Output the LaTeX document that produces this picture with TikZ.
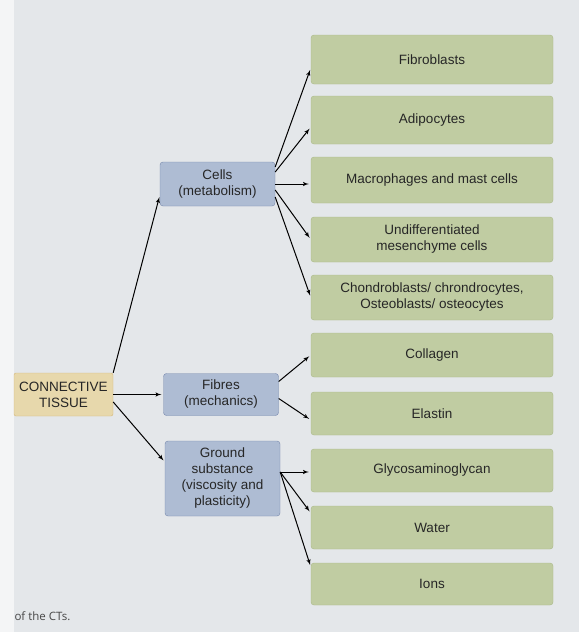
\documentclass[tikz,border=0pt]{standalone}
\usepackage{fontspec}
\setmainfont{Liberation Sans}
\newfontfamily\capfont{Open Sans}
\usetikzlibrary{arrows,shapes,calc}

\definecolor{paper}{RGB}{228,231,234}
\definecolor{pageedge}{RGB}{244,245,246}
\definecolor{tissuefill}{RGB}{231,216,172}
\definecolor{tissueline}{RGB}{214,184,122}
\definecolor{partfill}{RGB}{174,188,211}
\definecolor{partline}{RGB}{118,136,172}
\definecolor{kindfill}{RGB}{192,204,162}
\definecolor{kindline}{RGB}{170,184,136}
\definecolor{ink}{RGB}{38,38,38}

\begin{document}
\begin{tikzpicture}
[x=1pt,y=-1pt,
every node/.style={draw=none,text=ink,align=center,font=\fontsize{13.5}{16}\selectfont},
tissue/.style={draw=tissueline,fill=tissuefill,rounded corners=2pt,minimum width=99pt,minimum height=43pt,inner sep=0pt},
part/.style={draw=partline,fill=partfill,rounded corners=3pt,minimum width=115pt,inner sep=0pt},
kind/.style={draw=kindline,fill=kindfill,rounded corners=3pt,minimum width=242pt,minimum height=45pt,inner sep=0pt},
edge/.style={->,>=latex', shorten >=2pt, shorten <=.0pt, line width=1pt}]
%%
\fill[paper] (0,0) rectangle (579,632);
\fill[pageedge] (0,0) rectangle (14,632);
\useasboundingbox (0,0) rectangle (579,632);
%%
\node[tissue] (ct) at (63.5,394.5) {CONNECTIVE\\TISSUE};
%%
\node[part,minimum height=44pt] (cells) at (217.5,184) {Cells\\(metabolism)};
\node[part,minimum height=42pt] (fibres) at (221,394.5) {Fibres\\(mechanics)};
\node[part,minimum height=75pt] (ground) at (222.5,478.5) {Ground\\substance\\(viscosity and\\plasticity)};
%%
\node[kind,minimum height=49pt] (fibroblast) at (432,59.5) {Fibroblasts};
\node[kind,minimum height=48pt] (adipocyte) at (432,120) {Adipocytes};
\node[kind,minimum height=46pt] (macrophage) at (432,180) {Macrophages and mast cells};
\node[kind] (mesenchyme) at (432,239.5) {Undifferentiated\\mesenchyme cells};
\node[kind] (chondro) at (432,297.5) {Chondroblasts/ chrondrocytes,\\Osteoblasts/ osteocytes};
%%
\node[kind,minimum height=44pt] (collagen) at (432,355) {Collagen};
\node[kind,minimum height=43pt] (elastin) at (432,413.5) {Elastin};
%%
\node[kind,minimum height=43pt] (gag) at (432,470.5) {Glycosaminoglycan};
\node[kind,minimum height=43pt] (water) at (432,527.5) {Water};
\node[kind,minimum height=42pt] (ions) at (432,584) {Ions};
%%
\node[anchor=west,font=\capfont\fontsize{11.5}{13}\selectfont,text=ink!85] (caption) at (11,616) {of the CTs.};
%%
\draw[edge] (ct.north east) -- ([yshift=11pt]cells.south west);
\draw[edge] (ct.east) -- (fibres.west);
\draw[edge] ([yshift=-7.5pt]ct.east) -- ([yshift=16.5pt]ground.west);
%%
\draw[edge] ([yshift=17pt]cells.east) -- ([yshift=-8.5pt]fibroblast.west);
\draw[edge] ([yshift=12pt]cells.east) -- ([yshift=-7pt]adipocyte.west);
\draw[edge] (cells.east) -- ([yshift=-4pt]macrophage.west);
\draw[edge] ([yshift=-6pt]cells.east) -- (mesenchyme.west);
\draw[edge] ([yshift=-13pt]cells.east) -- (chondro.west);
%%
\draw[edge] ([yshift=13pt]fibres.east) -- (collagen.west);
\draw[edge] ([yshift=-4pt]fibres.east) -- ([yshift=-6.5pt]elastin.west);
%%
\draw[edge] ([yshift=6.5pt]ground.east) -- ([yshift=-1.5pt]gag.west);
\draw[edge] ([yshift=6.5pt]ground.east) -- ([yshift=14.5pt]water.west);
\draw[edge] ([yshift=6.5pt]ground.east) -- ([yshift=17pt]ions.west);
\end{tikzpicture}
\end{document}
